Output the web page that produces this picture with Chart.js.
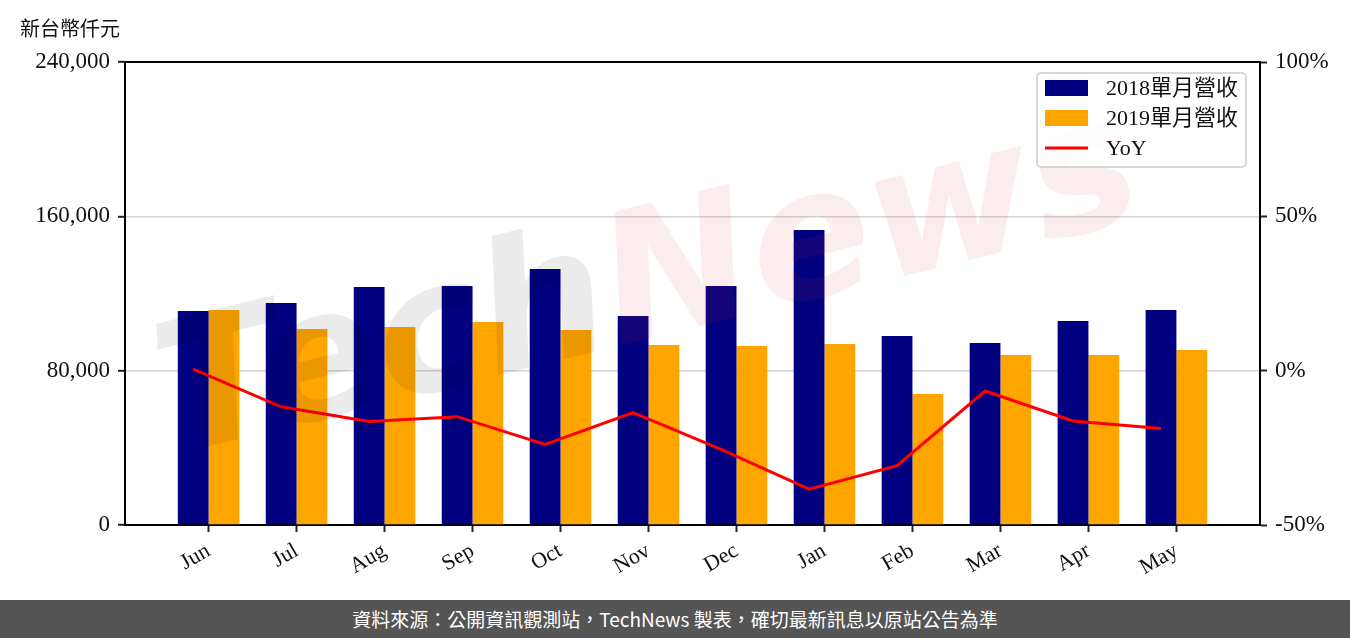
<!DOCTYPE html>
<html>
<head>
<meta charset="utf-8">
<script src="https://cdn.jsdelivr.net/npm/chart.js@4.4.1/dist/chart.umd.min.js"></script>
<style>
  html, body { margin: 0; padding: 0; background: #fff; }
  #wrap { width: 1350px; height: 600px; position: relative; }
  #footer { width: 1350px; height: 38px; background: #555555; color: #fff;
    font-family: "Noto Sans CJK TC", "Noto Sans", sans-serif; font-size: 19px;
    line-height: 38px; text-align: center; }
</style>
</head>
<body>
<div id="wrap"><canvas id="c" width="1350" height="600"></canvas></div>
<div id="footer">資料來源：公開資訊觀測站，TechNews 製表，確切最新訊息以原站公告為準</div>
<script>
const months = ['Jun','Jul','Aug','Sep','Oct','Nov','Dec','Jan','Feb','Mar','Apr','May'];
const rev2018 = [110960,115100,123400,123900,132700,108400,123900,152960,98000,94370,105770,111480];
const rev2019 = [111480,101630,102660,105260,101110,93330,92810,93850,67920,88150,88150,90740];
const yoyPct = [0.5,-11.7,-16.5,-14.9,-23.9,-13.6,-25.5,-38.4,-30.8,-6.6,-16.3,-18.7];
const leftTicks = [0, 80000, 160000, 240000];
const rightTicks = [-50, 0, 50, 100];
const unitLabel = '新台幣仟元';
const seriesNames = ['2018單月營收', '2019單月營收', 'YoY'];

const serif = '"Liberation Serif", "Noto Sans CJK TC", serif';

const frame = {
  id: 'frame',
  afterDraw(chart) {
    const {ctx, chartArea: a} = chart;
    ctx.save();
    ctx.strokeStyle = '#000'; ctx.lineWidth = 2;
    ctx.beginPath(); ctx.moveTo(a.left, a.top); ctx.lineTo(a.right, a.top); ctx.stroke();
    ctx.restore();
    // unit label
    ctx.save();
    ctx.fillStyle = '#111';
    ctx.font = '20px "Noto Sans CJK TC", sans-serif';
    ctx.textBaseline = 'middle'; ctx.textAlign = 'left';
    ctx.fillText(unitLabel, 20, 28);
    ctx.restore();
    // legend
    ctx.save();
    const lx = a.right - 223, ly = a.top + 11, lw = 209, lh = 94;
    ctx.fillStyle = 'rgba(255,255,255,0.8)';
    ctx.strokeStyle = '#cccccc'; ctx.lineWidth = 1.5;
    ctx.beginPath();
    ctx.roundRect(lx, ly, lw, lh, 4);
    ctx.fill(); ctx.stroke();
    ctx.font = '22px ' + serif;
    ctx.textBaseline = 'middle'; ctx.textAlign = 'left';
    const ds = chart.data.datasets;
    [0, 1, 2].forEach((k, i) => {
      const d = ds[k];
      const cy = ly + 15 + i * 30;
      if (d.type === 'line') {
        ctx.strokeStyle = d.borderColor; ctx.lineWidth = 3;
        ctx.beginPath(); ctx.moveTo(lx + 8, cy); ctx.lineTo(lx + 51, cy); ctx.stroke();
      } else {
        ctx.fillStyle = d.backgroundColor;
        ctx.fillRect(lx + 8, cy - 8, 43, 16);
      }
      ctx.fillStyle = '#111';
      ctx.fillText(d.label, lx + 69, cy + 1);
    });
    ctx.restore();
  },
  afterDatasetsDraw(chart) {
    const {ctx} = chart;
    ctx.save();
    ctx.translate(650, 290);
    ctx.rotate(-0.24);
    ctx.font = 'italic bold 180px "DejaVu Sans", sans-serif';
    ctx.textBaseline = 'middle'; ctx.textAlign = 'left';
    const w1 = ctx.measureText('Tech').width, w2 = ctx.measureText('News').width;
    const x0 = -(w1 + w2) / 2;
    ctx.fillStyle = 'rgba(0,0,0,0.08)';
    ctx.fillText('Tech', x0, 0);
    ctx.fillStyle = 'rgba(210,60,60,0.09)';
    ctx.fillText('News', x0 + w1, 0);
    ctx.restore();
  }
};

new Chart(document.getElementById('c'), {
  data: {
    datasets: [
      { type: 'bar', label: seriesNames[0], backgroundColor: '#000080', order: 2, yAxisID: 'y',
        data: rev2018.map((v, i) => ({x: i, y: v})) },
      { type: 'bar', label: seriesNames[1], backgroundColor: '#FFA500', order: 3, yAxisID: 'y',
        data: rev2019.map((v, i) => ({x: i, y: v})) },
      { type: 'line', label: seriesNames[2], borderColor: '#FF0000', backgroundColor: '#FF0000',
        borderWidth: 3, pointRadius: 0, tension: 0, order: 0, yAxisID: 'y1',
        data: yoyPct.map((v, i) => ({x: i - 0.175, y: v})) }
    ]
  },
  options: {
    responsive: false, animation: false,
    layout: { padding: { top: 62, left: 0, right: 0, bottom: 0 } },
    plugins: { legend: { display: false }, tooltip: { enabled: false } },
    datasets: { bar: { categoryPercentage: 0.7, barPercentage: 1.0 } },
    scales: {
      x: {
        type: 'linear', min: -0.95, max: 11.95, offset: false,
        afterBuildTicks(s) { s.ticks = months.map((m, i) => ({value: i})); },
        afterFit(s) { s.height = 75; },
        ticks: { autoSkip: false, minRotation: 30, maxRotation: 30, padding: 6,
          color: '#111', font: { family: serif, size: 22 },
          callback: (v) => months[v] },
        grid: { offset: false, drawOnChartArea: false, tickLength: 7, tickColor: '#222', tickWidth: 2 },
        border: { color: '#000', width: 2 }
      },
      y: {
        position: 'left', min: 0, max: 240000,
        afterBuildTicks(s) { s.ticks = leftTicks.map(v => ({value: v})); },
        afterFit(s) { s.width = 125; },
        ticks: { color: '#111', padding: 8, font: { family: serif, size: 23 },
          callback: (v) => v.toLocaleString('en-US') },
        grid: { color: '#d3d3d3', lineWidth: 1.6, tickColor: '#222', tickLength: 7, tickWidth: 2 },
        border: { color: '#000', width: 2 }
      },
      y1: {
        position: 'right', min: -50, max: 100,
        afterBuildTicks(s) { s.ticks = rightTicks.map(v => ({value: v})); },
        afterFit(s) { s.width = 90; },
        ticks: { color: '#111', padding: 8, font: { family: serif, size: 23 },
          callback: (v) => v + '%' },
        grid: { drawOnChartArea: false, tickColor: '#222', tickLength: 7, tickWidth: 2 },
        border: { color: '#000', width: 2 }
      }
    }
  },
  plugins: [frame]
});
</script>
</body>
</html>
